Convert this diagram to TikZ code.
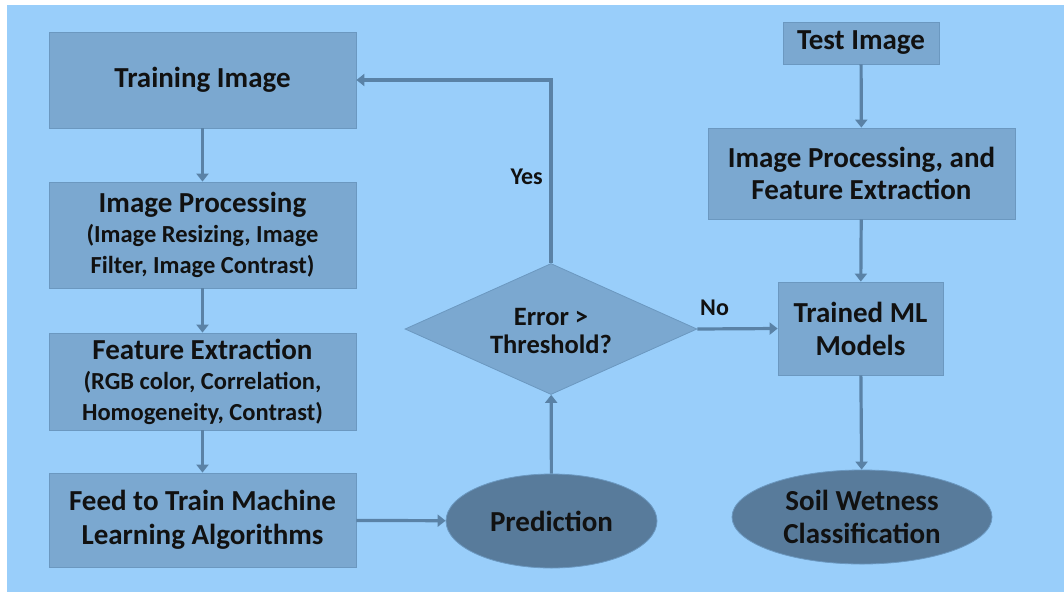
\documentclass[tikz,border=0pt]{standalone}
\usepackage{fontspec}
\setmainfont{Carlito}
\usetikzlibrary{shapes.geometric,arrows.meta}

\definecolor{bgblue}{HTML}{99CEFA}
\definecolor{boxfill}{HTML}{7BA8D0}
\definecolor{boxedge}{HTML}{6B98C0}
\definecolor{ovalfill}{HTML}{587B9B}
\definecolor{flowline}{HTML}{5A82A6}
\definecolor{inktext}{HTML}{111111}

\tikzset{
  stepbox/.style={rectangle, draw=boxedge, line width=0.8pt, fill=boxfill,
    inner sep=0pt, align=center, text=inktext,
    font=\bfseries\fontsize{29}{31}\selectfont},
  endoval/.style={ellipse, draw=boxedge, line width=0.8pt, fill=ovalfill,
    inner sep=0pt, align=center, text=inktext,
    font=\bfseries\fontsize{29}{33}\selectfont},
  decide/.style={diamond, draw=boxedge, line width=0.8pt, fill=boxfill, inner sep=0pt},
  label/.style={text=inktext, inner sep=0pt, font=\bfseries\fontsize{24}{26}\selectfont},
  flow/.style={draw=flowline, line width=3.2pt,
    -{Triangle[width=12pt,length=8pt]}}
}
\newcommand{\detail}[1]{{\fontsize{24.5}{27}\selectfont #1}}

\begin{document}
\begin{tikzpicture}[x=1pt,y=-1pt]
  \useasboundingbox (0,0) rectangle (1064,592);
  \fill[white] (0,0) rectangle (1064,592);
  \fill[bgblue] (7,5) rectangle (1064,592);

  % training branch
  \node[stepbox, minimum width=307pt, minimum height=96pt] (train) at (202.5,80) {Training Image};
  \node[stepbox, minimum width=307pt, minimum height=106pt] (improc) at (202.5,235)
    {Image Processing\\[-1pt]\detail{(Image Resizing, Image}\\\detail{Filter, Image Contrast)}};
  \node[stepbox, minimum width=307pt, minimum height=97pt] (featex) at (202.5,381.5)
    {Feature Extraction\\[-1pt]\detail{(RGB color, Correlation,}\\\detail{Homogeneity, Contrast)}};
  \node[stepbox, minimum width=307pt, minimum height=94pt, font=\bfseries\fontsize{29}{34}\selectfont] (feed) at (202.5,520)
    {Feed to Train Machine\\Learning Algorithms};

  % evaluation
  \node[endoval, minimum width=211pt, minimum height=94pt] (pred) at (551.5,521) {Prediction};
  \node[decide, minimum width=292pt, minimum height=131pt] (dia) at (551,329) {};
  \node[align=center, text=inktext, inner sep=0pt, font=\bfseries\fontsize{26.5}{28}\selectfont]
    (diatext) at (551,331) {Error >\\Threshold?};

  % testing branch
  \node[stepbox, minimum width=156pt, minimum height=42pt] (test) at (861,43) {Test Image};
  \node[stepbox, minimum width=307pt, minimum height=91pt, font=\bfseries\fontsize{29}{32}\selectfont] (ipfe) at (861.5,173.5)
    {Image Processing, and\\Feature Extraction};
  \node[stepbox, minimum width=165pt, minimum height=93pt, font=\bfseries\fontsize{29}{33}\selectfont] (trained) at (860.5,328.5)
    {Trained ML\\Models};
  \node[endoval, minimum width=260pt, minimum height=94pt, font=\bfseries\fontsize{29}{33}\selectfont] (soil) at (862,517)
    {Soil Wetness\\Classification};

  % connectors
  \draw[flow] (train) -- (improc);
  \draw[flow] (improc) -- (featex);
  \draw[flow] (featex) -- (feed);
  \draw[flow] (feed) -- (pred);
  \draw[flow] (pred) -- (dia);
  \draw[flow] (dia.north) |- (train.east);
  \draw[flow] (dia.east) -- (trained.west);
  \draw[flow] (test) -- (ipfe);
  \draw[flow] (ipfe) -- (trained);
  \draw[flow] (trained) -- (soil);

  % branch labels
  \node[label, anchor=east] (yes) at (543,177) {Yes};
  \node[label, anchor=west] (no) at (700,308) {No};
\end{tikzpicture}
\end{document}
